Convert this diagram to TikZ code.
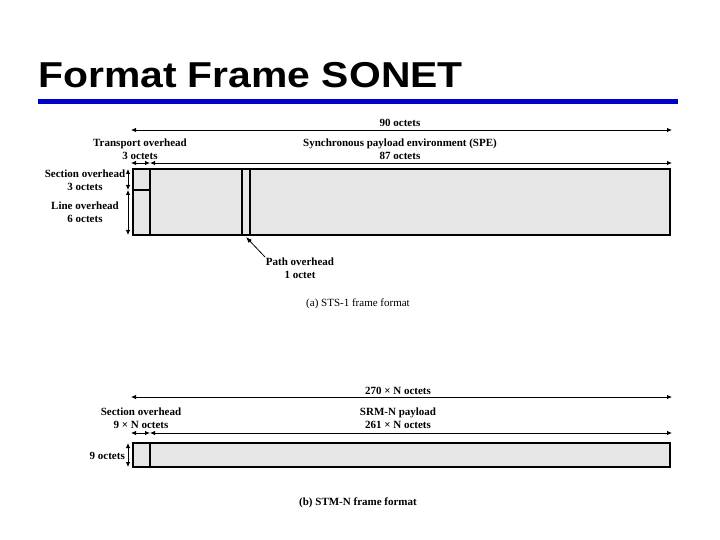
\documentclass[tikz,border=0pt]{standalone}
\usepackage{fontspec}
\setmainfont{Liberation Serif}
\newfontfamily\titleFont{Liberation Sans}
\usetikzlibrary{arrows.meta, positioning}
\definecolor{frameFill}{HTML}{E6E6E6}
\definecolor{titleBlue}{HTML}{0000CC}
\tikzset{
  lbl/.style={font=\fontsize{11}{13}\selectfont\bfseries, align=center, inner sep=0pt},
  caption/.style={font=\fontsize{11}{13}\selectfont, inner sep=0pt},
  dimArrow/.style={{Latex[length=5pt,width=4.5pt]}-{Latex[length=5pt,width=4.5pt]}, line width=0.8pt},
  pointer/.style={-{Latex[length=6pt,width=4.5pt]}, line width=0.8pt},
  frameBox/.style={draw, fill=frameFill, line width=1.8pt},
  divider/.style={line width=1.8pt}
}
\begin{document}
\begin{tikzpicture}[x=1pt, y=-1pt]
\useasboundingbox (0,0) rectangle (720,540);

\node[anchor=base west, inner sep=0pt] (title) at (38,88)
  {\titleFont\bfseries\fontsize{36}{40}\selectfont\scalebox{1.135}[1]{Format Frame SONET}};
\fill[titleBlue] (38,99) rectangle (678,104);

% (a) STS-1
\coordinate (aTopL) at (131,130); \coordinate (aTopR) at (672,130);
\coordinate (aRowL) at (131,163); \coordinate (aRowM) at (150,163); \coordinate (aRowR) at (672,163);
\draw[frameBox] (133,169) rectangle (670,235);
\draw[divider] (150,169) -- (150,235);
\draw[divider] (133,190) -- (150,190);
\draw[divider] (242,169) -- (242,235);
\draw[divider] (250,169) -- (250,235);
\draw[dimArrow] (aTopL) -- (aTopR);
\draw[dimArrow] (aRowL) -- (aRowM);
\draw[dimArrow] (aRowM) -- (aRowR);
\coordinate (aSecT) at (128,169); \coordinate (aSecB) at (128,190); \coordinate (aLineB) at (128,235);
\draw[dimArrow] (aSecT) -- (aSecB);
\draw[dimArrow] (aSecB) -- (aLineB);
\node[lbl] (lblNinety) at (400,123) {90 octets};
\node[lbl] (lblTransport) at (140,149) {Transport overhead\\3 octets};
\node[lbl] (lblSpe) at (400,149) {Synchronous payload environment (SPE)\\87 octets};
\node[lbl] (lblSection) at (85,180) {Section overhead\\3 octets};
\node[lbl] (lblLine) at (85,212) {Line overhead\\6 octets};
\node[lbl] (lblPath) at (300,268) {Path overhead\\1 octet};
\coordinate (pathTail) at (265,257); \coordinate (pathTip) at (246,237);
\draw[pointer] (pathTail) -- (pathTip);
\node[caption] (capA) at (358,304) {(a) STS-1 frame format};

% (b) STM-N
\coordinate (bTopL) at (131,397); \coordinate (bTopR) at (672,397);
\coordinate (bRowL) at (131,433); \coordinate (bRowM) at (150,433); \coordinate (bRowR) at (672,433);
\draw[frameBox] (133,443) rectangle (670,467);
\draw[divider] (150,443) -- (150,467);
\draw[dimArrow] (bTopL) -- (bTopR);
\draw[dimArrow] (bRowL) -- (bRowM);
\draw[dimArrow] (bRowM) -- (bRowR);
\coordinate (bSecT) at (128,443); \coordinate (bSecB) at (128,467);
\draw[dimArrow] (bSecT) -- (bSecB);
\node[lbl] (lblTotal) at (398,391) {270 × N octets};
\node[lbl] (lblSecN) at (141,418.5) {Section overhead\\9 × N octets};
\node[lbl] (lblPayload) at (398,418.5) {SRM-N payload\\261 × N octets};
\node[lbl, anchor=east] (lblNine) at (125,456) {9 octets};
\node[lbl] (capB) at (358,503) {(b) STM-N frame format};
\end{tikzpicture}
\end{document}
